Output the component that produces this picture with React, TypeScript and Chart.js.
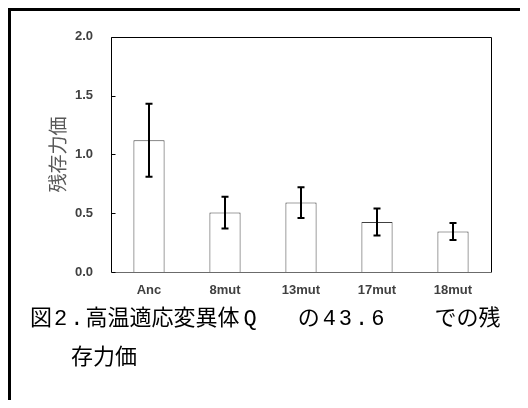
import React, { useEffect, useRef } from "react";
import { Chart, registerables } from "chart.js";

Chart.register(...registerables);

const categories = ["Anc", "8mut", "13mut", "17mut", "18mut"];
const values = [1.12, 0.505, 0.59, 0.425, 0.345];
const errors = [0.31, 0.135, 0.13, 0.115, 0.072];
const yTicks = [0, 0.5, 1.0, 1.5, 2.0];
const yTitle = "残存力価";
const captionLine2 = "存力価";

const framePlugin = {
  id: "frameAndErrors",
  afterDatasetsDraw(chart: any) {
    const { ctx, chartArea: a, scales } = chart;
    const x = scales.x;
    const y = scales.y;
    ctx.save();
    ctx.strokeStyle = "#000";
    ctx.lineWidth = 2;
    values.forEach((v, i) => {
      const cx = Math.round(x.getPixelForValue(i));
      const top = y.getPixelForValue(v + errors[i]);
      const bot = y.getPixelForValue(v - errors[i]);
      ctx.beginPath();
      ctx.moveTo(cx, top);
      ctx.lineTo(cx, bot);
      ctx.moveTo(cx - 3.5, top);
      ctx.lineTo(cx + 3.5, top);
      ctx.moveTo(cx - 3.5, bot);
      ctx.lineTo(cx + 3.5, bot);
      ctx.stroke();
    });
    ctx.lineWidth = 1;
    ctx.strokeStyle = "#000";
    const l = Math.round(a.left) + 0.5;
    const r = Math.round(a.right) + 0.5;
    const t = Math.round(a.top) + 0.5;
    const b = Math.round(a.bottom) + 0.5;
    ctx.beginPath();
    ctx.moveTo(l, b);
    ctx.lineTo(l, t);
    ctx.lineTo(r, t);
    ctx.lineTo(r, b);
    ctx.stroke();
    ctx.strokeStyle = "#6b6b6b";
    ctx.beginPath();
    ctx.moveTo(l, b);
    ctx.lineTo(r, b);
    ctx.stroke();
    ctx.strokeStyle = "#000";
    yTicks.forEach((tv) => {
      const py = Math.round(y.getPixelForValue(tv)) + 0.5;
      ctx.beginPath();
      ctx.moveTo(l, py);
      ctx.lineTo(l + 4, py);
      ctx.stroke();
    });
    ctx.restore();
  },
};

const mono: React.CSSProperties = {
  fontFamily: "'Liberation Mono', 'DejaVu Sans Mono', monospace",
  letterSpacing: "3px",
};
const cell = (w: number): React.CSSProperties => ({ display: "inline-block", width: w });

export default function App() {
  const ref = useRef<HTMLCanvasElement>(null);

  useEffect(() => {
    if (!ref.current) return;
    const tickFont = { family: "'Liberation Sans', Arial, sans-serif", size: 13, weight: "bold" as const };
    const chart = new Chart(ref.current, {
      type: "bar",
      data: {
        labels: categories,
        datasets: [
          {
            data: values,
            backgroundColor: "#ffffff",
            borderColor: "#404040",
            borderWidth: 1,
            barPercentage: 0.41,
            categoryPercentage: 1,
          },
        ],
      },
      options: {
        responsive: false,
        animation: false,
        layout: { padding: { left: 0, right: 37, top: 24, bottom: 0 } },
        plugins: {
          legend: { display: false },
          tooltip: { enabled: false },
        },
        scales: {
          x: {
            grid: { display: false, drawTicks: false },
            border: { display: false },
            ticks: { color: "#404040", padding: 11, font: tickFont },
            afterFit: (s: any) => {
              s.height = 29;
            },
          },
          y: {
            min: 0,
            max: 2,
            grid: { display: false, drawTicks: false },
            border: { display: false },
            afterBuildTicks: (s: any) => {
              s.ticks = yTicks.map((v) => ({ value: v }));
            },
            ticks: {
              color: "#404040",
              padding: 18,
              font: tickFont,
              callback: (v: any) => Number(v).toFixed(1),
            },
            title: {
              display: true,
              text: yTitle,
              color: "#595959",
              padding: { top: 35, bottom: 0 },
              font: { family: "'Noto Sans CJK JP', sans-serif", size: 19, weight: "normal" },
            },
            afterFit: (s: any) => {
              s.width = 100;
            },
          },
        },
      },
      plugins: [framePlugin],
    });
    return () => chart.destroy();
  }, []);

  return (
    <div
      style={{
        borderTop: "3px solid #000",
        borderLeft: "3px solid #000",
        width: 520,
        height: 392,
        boxSizing: "border-box",
        background: "#fff",
        overflow: "hidden",
      }}
    >
      <canvas ref={ref} width={517} height={290} style={{ display: "block", width: 517, height: 290 }} />
      <div
        style={{
          fontFamily: "'Noto Sans CJK JP', sans-serif",
          fontSize: 22,
          lineHeight: "35px",
          color: "#000",
          paddingLeft: 19,
          marginTop: -3,
          whiteSpace: "nowrap",
        }}
      >
        <div>
          <span>図</span>
          <span style={{ ...mono, paddingLeft: 2 }}>2.</span>
          <span style={{ marginLeft: -1 }}>高温適応変異体</span>
          <span style={{ ...mono, paddingLeft: 4 }}>Q</span>
          <span style={cell(38)}>　</span>
          <span>の</span>
          <span style={{ ...mono, paddingLeft: 3 }}>43.6</span>
          <span style={cell(47)}>　</span>
          <span>での残</span>
        </div>
        <div style={{ paddingLeft: 41 }}>{captionLine2}</div>
      </div>
    </div>
  );
}
